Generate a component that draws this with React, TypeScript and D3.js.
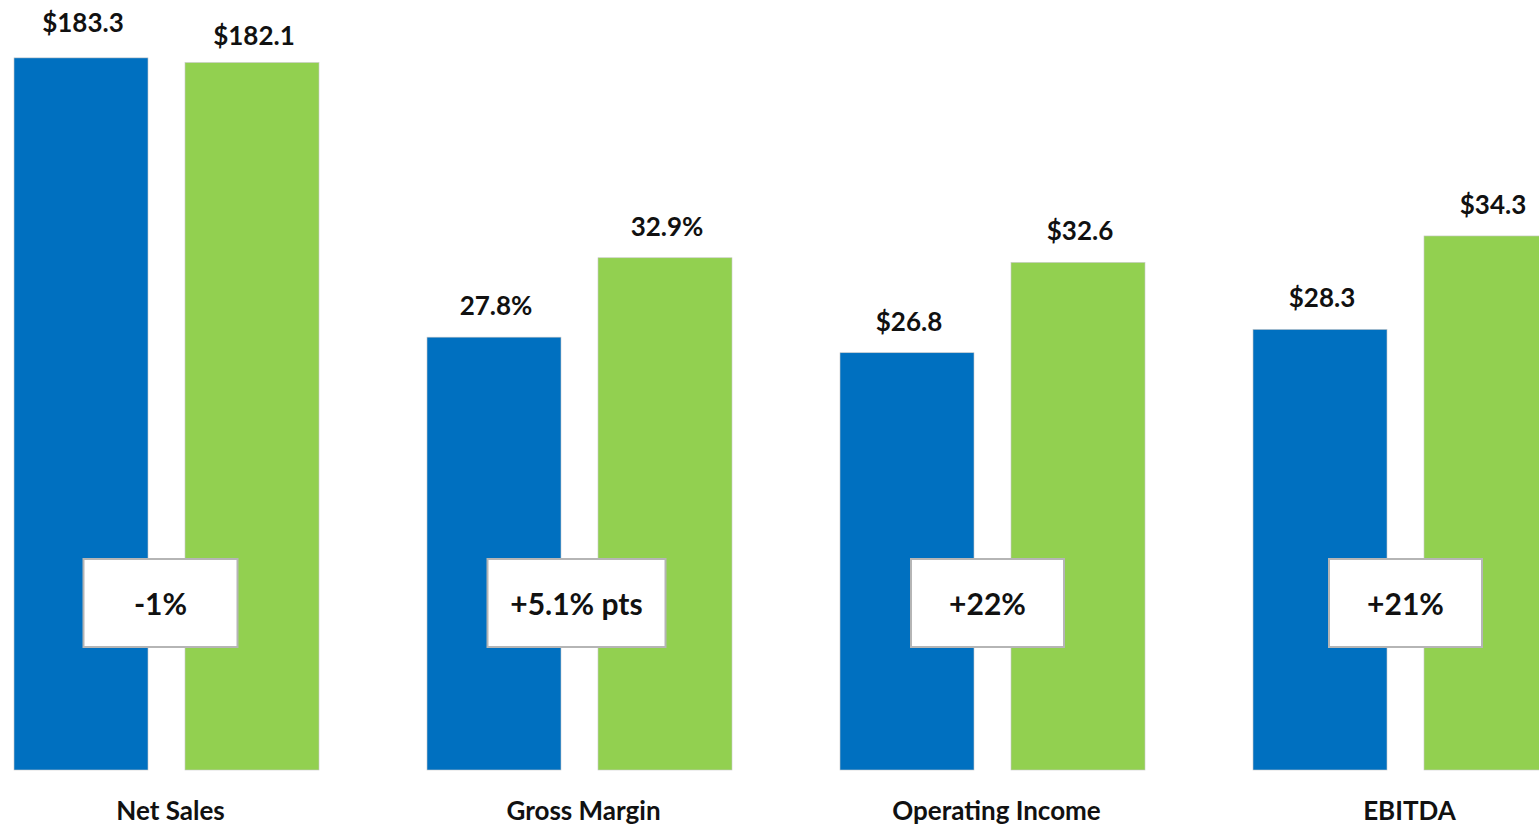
import React from "react";
import * as d3 from "d3";

const categories = ["Net Sales", "Gross Margin", "Operating Income", "EBITDA"];
const series = ["Prior", "Current"];
const priorValues = [183.3, 27.8, 26.8, 28.3];
const currentValues = [182.1, 32.9, 32.6, 34.3];
const priorLabels = ["$183.3", "27.8%", "$26.8", "$28.3"];
const currentLabels = ["$182.1", "32.9%", "$32.6", "$34.3"];
const changeLabels = ["-1%", "+5.1% pts", "+22%", "+21%"];

const W = 1539;
const H = 829;
const BASE = 770;
const BLUE = "#0070C0";
const GREEN = "#92D050";
const FONT = "Lato, 'Open Sans', sans-serif";

export default function App() {
  const x0 = d3.scaleBand<string>().domain(categories).range([14, 1558]).paddingInner(108 / 413).paddingOuter(0);
  const x1 = d3.scaleBand<string>().domain(series).range([0, x0.bandwidth()]).paddingInner(37 / 171).paddingOuter(0);
  const yNet = d3.scaleLinear().domain([0, 200]).range([BASE, BASE - 200 * 3.885]);
  const yOther = d3.scaleLinear().domain([0, 40]).range([BASE, BASE - 40 * 15.57]);
  const yFor = (i: number) => (i === 0 ? yNet : yOther);
  const boxW = [154, 178, 153, 153];
  const boxShift = [-6, -3, -5, 0];
  const labelDy = [[-26, -18], [-22, -22], [-22, -22], [-22, -22]];

  return (
    <svg width={W} height={H} style={{ position: "absolute", left: 0, top: 0, background: "#fff" }} fontFamily={FONT}>
      {categories.map((c, i) => {
        const gx = x0(c)!;
        const y = yFor(i);
        const vals = [priorValues[i], currentValues[i]];
        const labs = [priorLabels[i], currentLabels[i]];
        const gc = gx + x0.bandwidth() / 2;
        const cx = gc + boxShift[i];
        const bw = boxW[i];
        return (
          <g key={c}>
            {series.map((s, j) => {
              const bx = gx + x1(s)!;
              const top = y(vals[j]);
              return (
                <g key={s}>
                  <rect x={bx} y={top} width={x1.bandwidth()} height={BASE - top} fill={j === 0 ? BLUE : GREEN} stroke="#c8c8c8" strokeWidth={0.6} />
                  <text x={bx + x1.bandwidth() / 2 + 2} y={top + labelDy[i][j]} textAnchor="middle" fontSize={26} fontWeight={700} fill="#111">
                    {labs[j]}
                  </text>
                </g>
              );
            })}
            <rect x={cx - bw / 2} y={559} width={bw} height={88} fill="#fff" stroke="#b5b5b5" strokeWidth={2} />
            <text x={cx} y={604} dy="0.35em" textAnchor="middle" fontSize={30} fontWeight={700} fill="#111">
              {changeLabels[i]}
            </text>
            <text x={gc + 4} y={811} dy="0.35em" textAnchor="middle" fontSize={26} fontWeight={700} fill="#111">
              {c}
            </text>
          </g>
        );
      })}
    </svg>
  );
}
